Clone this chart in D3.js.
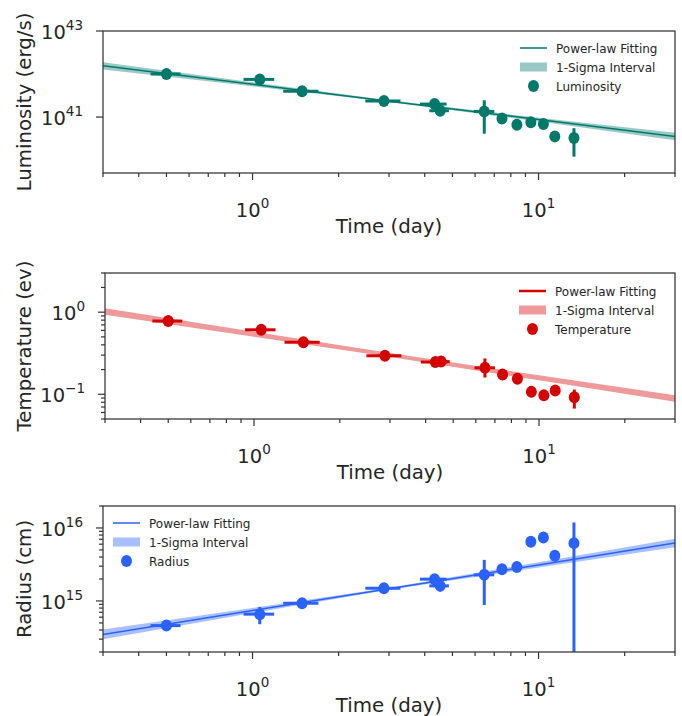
<!DOCTYPE html>
<html>
<head>
<meta charset="utf-8">
<script src="https://cdn.jsdelivr.net/npm/d3@7"></script>
<style>
  body { margin: 0; background: #fff; }
  text { font-family: "DejaVu Sans", sans-serif; fill: #262626; }
</style>
</head>
<body>
<script>
'use strict';

var width = 682,
    height = 716,
    right = 675;

// observation epochs (day) and their time bins
var times = [0.50, 1.06, 1.49, 2.88, 4.33, 4.53, 6.46, 7.45, 8.4, 9.4, 10.4, 11.4, 13.3];
var timeLo = [0.44, 0.93, 1.28, 2.48, 3.85, 4.15, 5.94, 7.45, 8.4, 9.4, 10.4, 11.4, 13.3];
var timeHi = [0.56, 1.19, 1.70, 3.29, 4.77, 4.86, 7.00, 7.45, 8.4, 9.4, 10.4, 11.4, 13.3];

// luminosity (erg/s)
var lum = [1.0e42, 7.5e41, 4.0e41, 2.35e41, 2.0e41, 1.4e41, 1.35e41, 9.2e40, 6.6e40, 7.6e40, 6.9e40, 3.55e40, 3.25e40];
var lumLo = [1.0e42, 7.5e41, 4.0e41, 2.35e41, 2.0e41, 1.4e41, 4.1e40, 9.2e40, 6.6e40, 7.6e40, 6.9e40, 3.55e40, 1.2e40];
var lumHi = [1.0e42, 7.5e41, 4.0e41, 2.35e41, 2.0e41, 1.4e41, 2.45e41, 9.2e40, 6.6e40, 7.6e40, 6.9e40, 3.55e40, 5.5e40];

// temperature (ev)
var temp = [0.78, 0.61, 0.43, 0.295, 0.247, 0.25, 0.21, 0.174, 0.155, 0.107, 0.097, 0.111, 0.092];
var tempLo = [0.78, 0.61, 0.43, 0.295, 0.247, 0.25, 0.16, 0.174, 0.155, 0.107, 0.097, 0.111, 0.067];
var tempHi = [0.78, 0.61, 0.43, 0.295, 0.247, 0.25, 0.273, 0.174, 0.155, 0.107, 0.097, 0.111, 0.114];

// radius (cm)
var rad = [4.6e14, 6.6e14, 9.3e14, 1.49e15, 1.99e15, 1.61e15, 2.28e15, 2.73e15, 2.91e15, 6.5e15, 7.4e15, 4.16e15, 6.2e15];
var radLo = [4.6e14, 4.8e14, 9.3e14, 1.49e15, 1.99e15, 1.61e15, 8.8e14, 2.73e15, 2.91e15, 6.5e15, 7.4e15, 3.6e15, 1e13];
var radHi = [4.6e14, 8.3e14, 9.3e14, 1.49e15, 1.99e15, 1.61e15, 3.66e15, 2.73e15, 2.91e15, 6.5e15, 7.4e15, 4.8e15, 1.19e16];

// power-law fits, sampled at these times, with 1-sigma band
var fitTimes = [0.3, 1, 3, 10, 30];
var lumFit = [1.55e42, 5.77e41, 2.34e41, 8.71e40, 3.53e40];
var lumFitHi = [1.87e42, 6.4e41, 2.45e41, 9.66e40, 4.3e40];
var lumFitLo = [1.28e42, 5.2e41, 2.23e41, 7.85e40, 2.9e40];
var tempFit = [1.02, 0.538, 0.301, 0.159, 0.0887];
var tempFitHi = [1.117, 0.577, 0.318, 0.170, 0.0973];
var tempFitLo = [0.929, 0.502, 0.284, 0.148, 0.0809];
var radFit = [3.48e14, 7.4e14, 1.47e15, 3.12e15, 6.21e15];
var radFitHi = [4.07e14, 8.02e14, 1.52e15, 3.38e15, 7.1e15];
var radFitLo = [2.98e14, 6.82e14, 1.42e15, 2.88e15, 5.43e15];

var legendNames = ['Power-law Fitting', '1-Sigma Interval'];

var svg = d3.select('body').append('svg')
  .attr('width', width)
  .attr('height', height);

function powLabel(sel, exp) {
  sel.append('tspan').text('10');
  sel.append('tspan')
    .attr('dy', -9)
    .attr('font-size', 13.5)
    .text(String(exp).replace('-', '\u2212'));
}

function drawPanel(p) {
  var x = d3.scaleLog().domain([0.3, 30]).range([p.left, right]);
  var y = d3.scaleLog().domain(p.ydomain).range([p.bottom, p.top]);
  var g = svg.append('g');

  g.append('clipPath').attr('id', 'clip' + p.id)
    .append('rect')
    .attr('x', p.left).attr('y', p.top)
    .attr('width', right - p.left).attr('height', p.bottom - p.top);

  var plot = g.append('g').attr('clip-path', 'url(#clip' + p.id + ')');

  var fit = fitTimes.map(function(t, i) {
    return {t: t, v: p.fit[i], lo: p.fitLo[i], hi: p.fitHi[i]};
  });

  var area = d3.area()
    .x(function(d) { return x(d.t); })
    .y0(function(d) { return y(d.lo); })
    .y1(function(d) { return y(d.hi); });
  var line = d3.line()
    .x(function(d) { return x(d.t); })
    .y(function(d) { return y(d.v); });

  var bandStyle = function(s) {
    if (p.opaqueBand) s.attr('fill', p.band);
    else s.attr('fill', p.color).attr('fill-opacity', 0.4);
  };

  if (p.opaqueBand) {
    plot.append('path').datum(fit).attr('d', line)
      .attr('fill', 'none').attr('stroke', p.color).attr('stroke-width', 1.5);
    plot.append('path').datum(fit).attr('d', area).call(bandStyle);
  } else {
    plot.append('path').datum(fit).attr('d', area).call(bandStyle);
    plot.append('path').datum(fit).attr('d', line)
      .attr('fill', 'none').attr('stroke', p.color).attr('stroke-width', 1.5);
  }

  var pts = times.map(function(t, i) {
    return {t: t, tlo: timeLo[i], thi: timeHi[i], v: p.vals[i], lo: p.lo[i], hi: p.hi[i]};
  });

  var pt = plot.selectAll('g.pt').data(pts).enter().append('g').attr('class', 'pt');
  pt.append('line')
    .attr('x1', function(d) { return x(d.tlo); })
    .attr('x2', function(d) { return x(d.thi); })
    .attr('y1', function(d) { return y(d.v); })
    .attr('y2', function(d) { return y(d.v); })
    .attr('stroke', p.color).attr('stroke-width', 3);
  pt.append('line')
    .attr('x1', function(d) { return x(d.t); })
    .attr('x2', function(d) { return x(d.t); })
    .attr('y1', function(d) { return y(d.lo); })
    .attr('y2', function(d) { return y(d.hi); })
    .attr('stroke', p.color).attr('stroke-width', 3);
  pt.append('ellipse')
    .attr('cx', function(d) { return x(d.t); })
    .attr('cy', function(d) { return y(d.v); })
    .attr('rx', 5.5).attr('ry', 6)
    .attr('fill', p.color);

  // ticks
  var xt = x.ticks();
  var yt = y.ticks().filter(p.ytickFilter);
  var isMajor = function(v) { return Math.abs(Math.log10(v) - Math.round(Math.log10(v))) < 1e-6; };

  g.selectAll('line.xt').data(xt).enter().append('line')
    .attr('x1', function(d) { return x(d); }).attr('x2', function(d) { return x(d); })
    .attr('y1', p.bottom).attr('y2', function(d) { return p.bottom + (isMajor(d) ? 7 : 4); })
    .attr('stroke', '#333').attr('stroke-width', 1.2);
  g.selectAll('line.yt').data(yt).enter().append('line')
    .attr('y1', function(d) { return y(d); }).attr('y2', function(d) { return y(d); })
    .attr('x1', p.left).attr('x2', function(d) { return p.left - (isMajor(d) ? 7 : 4); })
    .attr('stroke', '#333').attr('stroke-width', 1.2);

  xt.filter(isMajor).forEach(function(v) {
    g.append('text')
      .attr('x', x(v)).attr('y', p.bottom + 44)
      .attr('text-anchor', 'middle')
      .attr('font-size', 19.5)
      .call(powLabel, Math.round(Math.log10(v)));
  });
  yt.filter(isMajor).forEach(function(v) {
    g.append('text')
      .attr('x', p.left - 20).attr('y', y(v) + 8)
      .attr('text-anchor', 'end')
      .attr('font-size', 19.5)
      .call(powLabel, Math.round(Math.log10(v)));
  });

  g.append('rect')
    .attr('x', p.left).attr('y', p.top)
    .attr('width', right - p.left).attr('height', p.bottom - p.top)
    .attr('fill', 'none').attr('stroke', '#333').attr('stroke-width', 1.25);

  g.append('text')
    .attr('x', (p.left + right) / 2).attr('y', p.bottom + 60)
    .attr('text-anchor', 'middle').attr('font-size', 19.8)
    .text('Time (day)');
  g.append('text')
    .attr('transform', 'translate(31,' + ((p.top + p.bottom) / 2) + ') rotate(-90)')
    .attr('text-anchor', 'middle').attr('font-size', 19.8)
    .text(p.ylabel);

  // legend
  var lg = g.append('g').attr('transform', 'translate(' + p.legX + ',' + p.legY + ')');
  lg.append('line').attr('x1', 0).attr('x2', 27).attr('y1', 0).attr('y2', 0)
    .attr('stroke', p.color).attr('stroke-width', p.legLine);
  lg.append('rect').attr('x', 0).attr('y', 14.5).attr('width', 27).attr('height', 9)
    .call(bandStyle);
  lg.append('ellipse').attr('cx', 13.5).attr('cy', 38).attr('rx', 5.5).attr('ry', 6)
    .attr('fill', p.color);
  legendNames.concat([p.name]).forEach(function(name, i) {
    lg.append('text')
      .attr('x', 36).attr('y', i * 19 + 4.5)
      .attr('font-size', 12)
      .text(name);
  });
}

drawPanel({
  id: 1, top: 31, bottom: 173, left: 103,
  ydomain: [5e39, 1e43],
  ytickFilter: function(v) { var e = Math.log10(v); return Math.abs(e - Math.round(e)) < 1e-6 && Math.round(e) % 2 !== 0; },
  vals: lum, lo: lumLo, hi: lumHi,
  fit: lumFit, fitLo: lumFitLo, fitHi: lumFitHi,
  color: '#00796b', name: 'Luminosity', ylabel: 'Luminosity (erg/s)',
  legX: 520, legY: 48, legLine: 1.5
});

drawPanel({
  id: 2, top: 273, bottom: 419, left: 105,
  ydomain: [0.05, 3],
  ytickFilter: function() { return true; },
  vals: temp, lo: tempLo, hi: tempHi,
  fit: tempFit, fitLo: tempFitLo, fitHi: tempFitHi,
  color: '#d50000', band: '#ef9a9a', opaqueBand: true,
  name: 'Temperature', ylabel: 'Temperature (ev)',
  legX: 519, legY: 291, legLine: 2.5
});

drawPanel({
  id: 3, top: 506, bottom: 652, left: 103,
  ydomain: [2e14, 2e16],
  ytickFilter: function() { return true; },
  vals: rad, lo: radLo, hi: radHi,
  fit: radFit, fitLo: radFitLo, fitHi: radFitHi,
  color: '#2962ff', name: 'Radius', ylabel: 'Radius (cm)',
  legX: 113, legY: 523, legLine: 1.5
});
</script>
</body>
</html>
